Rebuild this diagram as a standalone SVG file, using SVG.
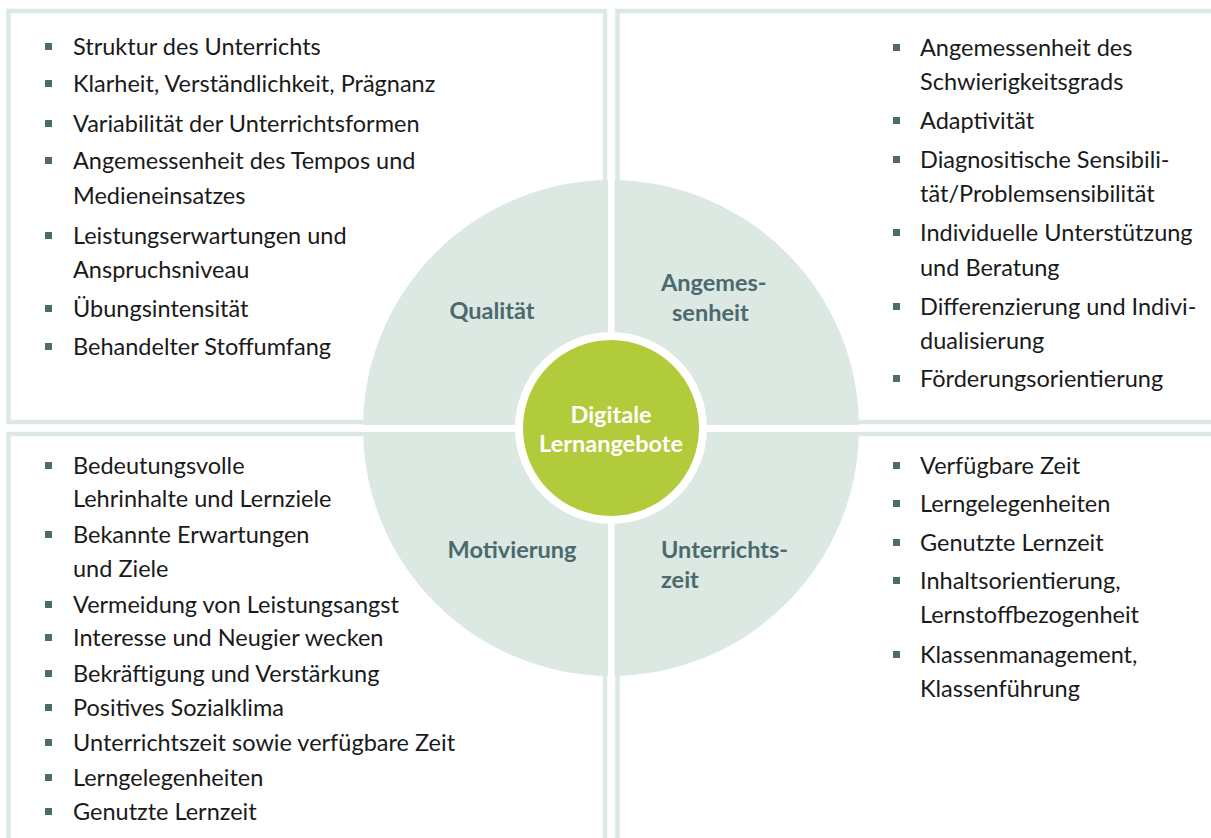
<svg xmlns="http://www.w3.org/2000/svg" width="1211" height="838" viewBox="0 0 1211 838">
<style>
.box{fill:none;stroke:#dce8e2;stroke-width:4.5}
.t{font-family:Lato,"Noto Sans",sans-serif;font-size:23.5px;fill:#1a1a1a}
.b{fill:#4e6b70}
.lbl{font-family:Lato,"Noto Sans",sans-serif;font-size:23.5px;font-weight:bold;fill:#4a6a6e}
.ctr{font-family:Lato,"Noto Sans",sans-serif;font-size:23.5px;font-weight:bold;fill:#ffffff;text-anchor:middle}
</style>
<defs>
<rect id="sq" width="7" height="7"/>
</defs>
<rect width="1211" height="838" fill="#ffffff"/>
<g id="boxes">
<rect class="box" x="8.5" y="11" width="596.5" height="411"/>
<rect class="box" x="8.5" y="434" width="596.5" height="420"/>
<rect class="box" x="617.5" y="11" width="600" height="411"/>
<rect class="box" x="617.5" y="434" width="600" height="420"/>
</g>
<g id="ring">
<circle cx="611" cy="428" r="248" fill="#dce8e2"/>
<rect x="608" y="178" width="6.5" height="500" fill="#ffffff"/>
<rect x="361" y="425" width="500" height="7" fill="#ffffff"/>
</g>
<g id="center">
<circle cx="611" cy="428" r="92" fill="#b2cb3a" stroke="#ffffff" stroke-width="8"/>
<text class="ctr" x="611" y="423">Digitale</text>
<text class="ctr" x="611" y="452">Lernangebote</text>
</g>
<g id="labels">
<text class="lbl" x="492" y="319" text-anchor="middle">Qualität</text>
<text class="lbl" x="661" y="291">Angemes-</text>
<text class="lbl" x="672" y="321">senheit</text>
<text class="lbl" x="512" y="558" text-anchor="middle">Motivierung</text>
<text class="lbl" x="661" y="558">Unterrichts-</text>
<text class="lbl" x="661" y="588">zeit</text>
</g>
<g id="top-left" class="b">
<use href="#sq" x="45" y="43"/><text class="t" x="73" y="55">Struktur des Unterrichts</text>
<use href="#sq" x="45" y="80"/><text class="t" x="73" y="92">Klarheit, Verständlichkeit, Prägnanz</text>
<use href="#sq" x="45" y="120"/><text class="t" x="73" y="132">Variabilität der Unterrichtsformen</text>
<use href="#sq" x="45" y="157"/><text class="t" x="73" y="169">Angemessenheit des Tempos und</text>
<text class="t" x="73" y="204">Medieneinsatzes</text>
<use href="#sq" x="45" y="232"/><text class="t" x="73" y="244">Leistungserwartungen und</text>
<text class="t" x="73" y="278">Anspruchsniveau</text>
<use href="#sq" x="45" y="305"/><text class="t" x="73" y="317">Übungsintensität</text>
<use href="#sq" x="45" y="343"/><text class="t" x="73" y="355">Behandelter Stoffumfang</text>
</g>
<g id="top-right" class="b">
<use href="#sq" x="893" y="44"/><text class="t" x="920" y="56">Angemessenheit des</text>
<text class="t" x="920" y="90">Schwierigkeitsgrads</text>
<use href="#sq" x="893" y="117"/><text class="t" x="920" y="129">Adaptivität</text>
<use href="#sq" x="893" y="156"/><text class="t" x="920" y="168">Diagnositische Sensibili-</text>
<text class="t" x="920" y="202">tät/Problemsensibilität</text>
<use href="#sq" x="893" y="229"/><text class="t" x="920" y="241">Individuelle Unterstützung</text>
<text class="t" x="920" y="276">und Beratung</text>
<use href="#sq" x="893" y="303"/><text class="t" x="920" y="315">Differenzierung und Indivi-</text>
<text class="t" x="920" y="349">dualisierung</text>
<use href="#sq" x="893" y="375"/><text class="t" x="920" y="387">Förderungsorientierung</text>
</g>
<g id="bottom-left" class="b">
<use href="#sq" x="45" y="462"/><text class="t" x="73" y="474">Bedeutungsvolle</text>
<text class="t" x="73" y="507">Lehrinhalte und Lernziele</text>
<use href="#sq" x="45" y="531"/><text class="t" x="73" y="543">Bekannte Erwartungen</text>
<text class="t" x="73" y="577">und Ziele</text>
<use href="#sq" x="45" y="601"/><text class="t" x="73" y="613">Vermeidung von Leistungsangst</text>
<use href="#sq" x="45" y="634"/><text class="t" x="73" y="646">Interesse und Neugier wecken</text>
<use href="#sq" x="45" y="670"/><text class="t" x="73" y="682">Bekräftigung und Verstärkung</text>
<use href="#sq" x="45" y="704"/><text class="t" x="73" y="716">Positives Sozialklima</text>
<use href="#sq" x="45" y="739"/><text class="t" x="73" y="751">Unterrichtszeit sowie verfügbare Zeit</text>
<use href="#sq" x="45" y="774"/><text class="t" x="73" y="786">Lerngelegenheiten</text>
<use href="#sq" x="45" y="808"/><text class="t" x="73" y="820">Genutzte Lernzeit</text>
</g>
<g id="bottom-right" class="b">
<use href="#sq" x="893" y="462"/><text class="t" x="920" y="474">Verfügbare Zeit</text>
<use href="#sq" x="893" y="500"/><text class="t" x="920" y="512">Lerngelegenheiten</text>
<use href="#sq" x="893" y="539"/><text class="t" x="920" y="551">Genutzte Lernzeit</text>
<use href="#sq" x="893" y="577"/><text class="t" x="920" y="589">Inhaltsorientierung,</text>
<text class="t" x="920" y="623">Lernstoffbezogenheit</text>
<use href="#sq" x="893" y="651"/><text class="t" x="920" y="663">Klassenmanagement,</text>
<text class="t" x="920" y="697">Klassenführung</text>
</g>
</svg>
